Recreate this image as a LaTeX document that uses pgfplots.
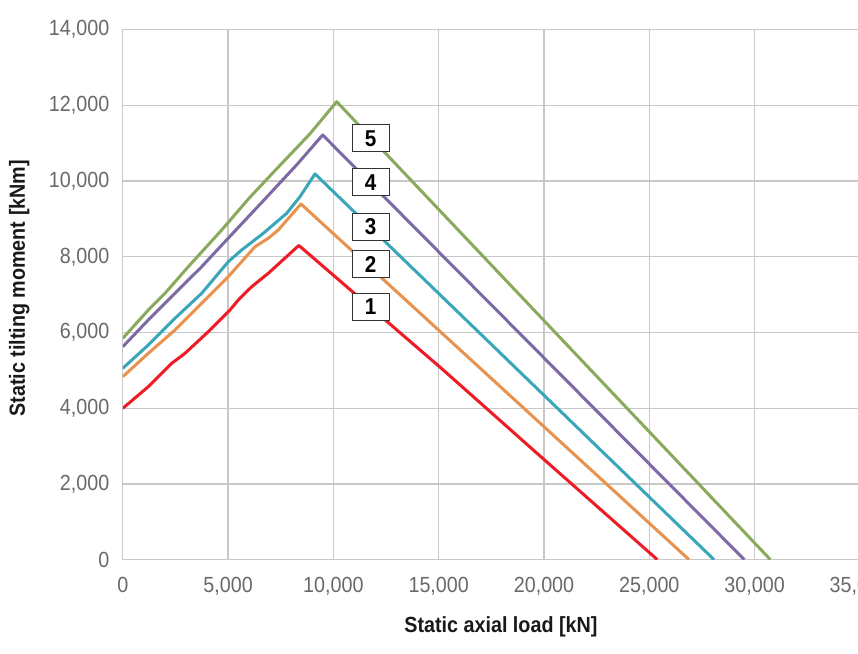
\documentclass[border=0pt]{standalone}
\usepackage{fontspec}
\setmainfont{Liberation Sans}[FakeStretch=0.9]
\usepackage{pgfplots}
\pgfplotsset{compat=1.18}

\definecolor{gridgray}{RGB}{200,200,200}
\definecolor{tickgray}{RGB}{105,105,105}
\definecolor{cred}{RGB}{237,28,36}
\definecolor{corange}{RGB}{232,146,77}
\definecolor{cteal}{RGB}{58,166,185}
\definecolor{cpurple}{RGB}{125,106,165}
\definecolor{cgreen}{RGB}{137,170,92}

\begin{document}
\begin{tikzpicture}
\useasboundingbox (-122.8bp,-94.4bp) rectangle (735.2bp,559.6bp);
\begin{axis}[
  at={(0,0)}, anchor=origin,
  scale only axis,
  width=737.1bp, height=529.9bp,
  xmin=0, xmax=35000, ymin=0, ymax=14000,
  xtick={0,5000,...,35000},
  ytick={0,2000,...,14000},
  scaled ticks=false,
  grid=major,
  major grid style={color=gridgray, line width=1.2bp},
  axis line style={color=gridgray, line width=1.2bp},
  major tick length=0pt,
  tick label style={font=\fontsize{22}{24}\selectfont, color=tickgray},
  yticklabel style={xshift=-10bp},
  xticklabel style={yshift=-14bp},
  /pgf/number format/.cd, 1000 sep={,}, assume math mode=true,
  /pgfplots/.cd,
  xlabel={\bfseries Static axial load [kN]},
  ylabel={\bfseries Static tilting moment [kNm]},
  xlabel style={font=\fontsize{22}{24}\selectfont, color=black!90,
    at={(axis description cs:0.513,-0.138)}, anchor=base},
  ylabel style={font=\fontsize{22}{24}\selectfont, color=black!90,
    at={(axis description cs:-0.1327,0.512)}, anchor=base, rotate=0},
  every axis plot/.append style={line width=3bp, line join=round, no markers},
]
% 1
\addplot[cred] coordinates {
  (0,3997) (1211,4568) (2322,5186) (2953,5450) (4060,6021) (5090,6594)
  (5484,6859) (6120,7210) (6908,7564) (8360,8300) (15218,5009) (19491,2896)
  (25380,0)
};
% 2
\addplot[corange] coordinates {
  (0,4832) (1211,5450) (2478,6066) (3746,6771) (5009,7474) (6277,8267)
  (6908,8489) (7383,8708) (8461,9395) (26885,0)
};
% 3
\addplot[cteal] coordinates {
  (0,5054) (1211,5670) (2478,6375) (3746,7036) (5009,7871) (5645,8180)
  (6671,8621) (7782,9149) (8414,9588) (9126,10190) (28072,0)
};
% 4
\addplot[cpurple] coordinates {
  (0,5625) (1211,6330) (2478,7036) (3746,7738) (4852,8400) (6671,9480)
  (8257,10430) (9491,11218) (29511,0)
};
% 5
\addplot[cgreen] coordinates {
  (0,5847) (1211,6594) (2004,7036) (3110,7738) (4696,8708) (6000,9550)
  (7146,10230) (8888,11250) (10156,12098) (30747,0)
};

\foreach \n/\yy in {5/11131, 4/9968, 3/8795, 2/7805, 1/6682}{
  \edef\tmp{\noexpand\node[draw=black!80, line width=1bp, fill=white,
    minimum width=36.7bp, minimum height=26.7bp, inner sep=0pt,
    font=\noexpand\fontsize{23}{24}\noexpand\selectfont\noexpand\bfseries]
    at (axis cs:11770,\yy) {\n};}
  \tmp
}
\end{axis}
\end{tikzpicture}
\end{document}
